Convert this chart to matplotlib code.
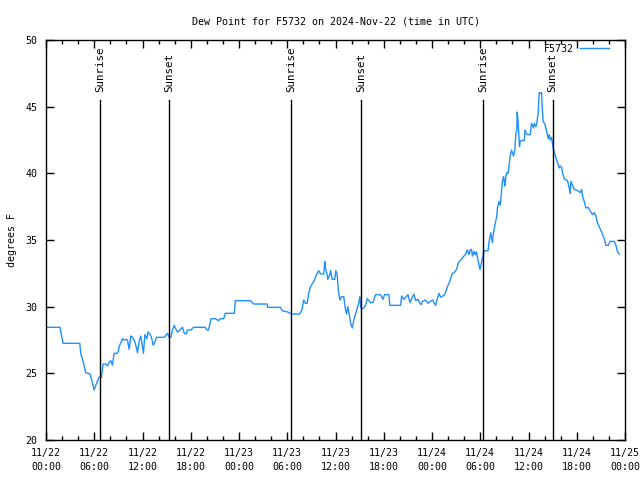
import matplotlib
matplotlib.use("Agg")
import matplotlib.pyplot as plt
from matplotlib.ticker import MultipleLocator

# hours after 2024-11-22 00:00 UTC
hours = [0.0, 1.74, 2.12, 4.2, 4.32, 4.61, 4.94, 5.48, 5.69, 5.98, 6.19, 6.39, 6.6, 6.89,
         7.1, 7.44, 7.64, 7.85, 8.06, 8.26, 8.47, 8.8, 8.97, 9.09, 9.38, 9.5, 9.72, 9.93,
         10.13, 10.34, 10.55, 10.75, 10.96, 11.17, 11.37, 11.58, 11.79, 12.0, 12.12, 12.29,
         12.54, 12.7, 12.95, 13.12, 13.33, 13.54, 13.74, 14.7, 14.91, 15.11, 15.32, 15.53,
         15.73, 15.94, 16.16, 16.36, 16.57, 16.78, 16.98, 17.19, 17.4, 17.6, 18.02, 18.35,
         19.81, 20.02, 20.22, 20.52, 21.05, 21.46, 21.67, 22.09, 22.3, 23.42, 23.54, 25.41,
         25.82, 27.49, 27.57, 29.15, 29.36, 30.06, 30.52, 31.55, 31.85, 32.05, 32.26, 32.47,
         32.67, 32.89, 33.1, 33.3, 33.72, 33.92, 34.13, 34.54, 34.67, 34.75, 34.97, 35.04,
         35.29, 35.38, 35.59, 35.91, 36.04, 36.21, 36.34, 36.54, 36.75, 37.03, 37.25, 37.37,
         37.53, 37.66, 37.87, 38.08, 38.28, 38.49, 38.7, 38.9, 39.03, 39.15, 39.33, 39.53,
         39.74, 39.95, 40.15, 40.36, 40.65, 40.98, 41.61, 41.89, 42.1, 42.64, 42.76, 44.1,
         44.22, 44.51, 44.72, 45.01, 45.26, 45.47, 45.75, 45.97, 46.25, 46.5, 46.67, 46.8,
         47.21, 47.5, 47.83, 48.08, 48.25, 48.46, 48.67, 48.87, 49.08, 49.49, 49.7, 49.91,
         50.11, 50.32, 50.54, 50.74, 51.07, 51.28, 51.57, 51.91, 52.19, 52.4, 52.61, 52.74,
         52.91, 53.03, 53.23, 53.36, 53.53, 53.72, 53.97, 54.4, 54.56, 54.97, 55.1, 55.31,
         55.39, 55.51, 55.64, 55.81, 56.05, 56.14, 56.34, 56.47, 56.55, 56.64, 56.76, 56.89,
         56.97, 57.05, 57.18, 57.3, 57.46, 57.59, 57.71, 57.89, 58.01, 58.14, 58.3, 58.43,
         58.55, 58.59, 58.67, 58.76, 58.88, 58.96, 59.05, 59.46, 59.59, 59.71, 59.88, 60.21,
         60.38, 60.63, 60.71, 60.92, 61.04, 61.2, 61.33, 61.54, 61.62, 61.7, 61.82, 62.03,
         62.28, 62.45, 62.57, 62.7, 62.87, 63.03, 63.19, 63.4, 63.62, 63.82, 63.94, 64.12,
         64.24, 64.45, 64.66, 64.86, 65.06, 65.19, 65.27, 65.48, 65.69, 66.1, 66.43, 66.61,
         66.73, 66.93, 67.14, 67.43, 67.68, 67.98, 68.18, 68.39, 68.51, 68.8, 69.01, 69.22,
         69.42, 69.63, 69.92, 70.17, 70.66, 70.87, 71.08, 71.28]
dewpoint = [28.45, 28.45, 27.25, 27.25, 26.5, 25.9, 25.05, 24.95, 24.5, 23.75, 24.1, 24.4,
            24.7, 24.7, 25.7, 25.7, 25.55, 25.8, 25.95, 25.6, 26.5, 26.5, 26.6, 27.0, 27.4,
            27.6, 27.5, 27.55, 27.5, 26.8, 27.8, 27.7, 27.5, 27.1, 26.55, 27.4, 27.8, 27.0,
            26.5, 27.9, 27.6, 28.1, 27.9, 27.7, 27.1, 27.35, 27.7, 27.7, 27.85, 28.0, 27.7,
            27.7, 28.25, 28.6, 28.3, 28.1, 28.2, 28.35, 28.45, 28.0, 27.95, 28.25, 28.25,
            28.45, 28.45, 28.25, 28.25, 29.1, 29.1, 28.95, 29.1, 29.1, 29.5, 29.5, 30.45,
            30.45, 30.2, 30.2, 29.95, 29.95, 29.7, 29.6, 29.45, 29.45, 29.8, 30.5, 30.25,
            30.25, 31.0, 31.5, 31.7, 31.9, 32.5, 32.7, 32.45, 32.45, 33.4, 32.9, 32.4, 32.05,
            32.4, 32.7, 32.05, 32.05, 32.7, 32.4, 31.3, 30.5, 30.75, 30.75, 29.75, 29.45,
            30.0, 29.6, 28.8, 28.4, 29.0, 29.45, 29.9, 30.3, 30.75, 29.9, 29.85, 29.9, 30.1,
            30.6, 30.45, 30.3, 30.3, 30.9, 30.9, 30.55, 30.9, 30.9, 30.1, 30.1, 30.8, 30.55,
            30.7, 30.9, 30.3, 30.6, 30.95, 30.45, 30.55, 30.25, 30.15, 30.4, 30.5, 30.25,
            30.4, 30.5, 30.3, 30.1, 30.6, 31.0, 30.7, 30.85, 31.1, 31.5, 31.75, 32.1, 32.5,
            32.55, 32.8, 33.3, 33.5, 33.75, 33.95, 34.25, 33.9, 34.25, 34.3, 33.8, 34.15,
            33.9, 34.1, 33.5, 32.8, 34.0, 34.2, 34.2, 34.9, 35.55, 35.2, 34.8, 35.5, 36.1,
            36.75, 37.4, 37.9, 37.6, 38.0, 38.6, 39.4, 39.75, 39.5, 39.05, 39.75, 40.05, 40.0,
            40.6, 41.25, 41.75, 41.55, 41.3, 41.7, 43.0, 43.25, 44.6, 44.2, 43.25, 42.0, 42.4,
            42.45, 42.45, 43.25, 43.0, 42.9, 42.9, 43.75, 43.4, 43.75, 43.5, 43.8, 44.5,
            46.05, 46.0, 46.05, 45.0, 43.9, 43.7, 43.1, 42.6, 42.9, 42.5, 42.7, 42.0, 41.6,
            41.2, 40.8, 40.4, 40.55, 40.45, 40.0, 39.6, 39.5, 39.45, 38.9, 38.5, 39.4, 39.1,
            38.8, 38.7, 38.55, 38.8, 38.25, 37.9, 37.4, 37.45, 37.15, 36.9, 37.05, 36.8, 36.4,
            36.0, 35.7, 35.4, 35.1, 34.6, 34.6, 34.9, 34.9, 34.6, 34.1, 33.95]

sun_events = [6.72, 15.32, 30.5, 39.2, 54.4, 63.0]
sun_labels = ["Sunrise", "Sunset", "Sunrise", "Sunset", "Sunrise", "Sunset"]

tick_hours = list(range(0, 73, 6))
tick_labels = ["11/22\n00:00", "11/22\n06:00", "11/22\n12:00", "11/22\n18:00",
               "11/23\n00:00", "11/23\n06:00", "11/23\n12:00", "11/23\n18:00",
               "11/24\n00:00", "11/24\n06:00", "11/24\n12:00", "11/24\n18:00",
               "11/25\n00:00"]

plt.rcParams['font.family'] = 'DejaVu Sans Mono'
plt.rcParams['font.size'] = 7.2

fig = plt.figure(figsize=(6.4, 4.8), dpi=100)
ax = fig.add_axes([46 / 640, 40 / 480, 579 / 640, 400 / 480])

ax.plot(hours, dewpoint, color='#1E90FF', linewidth=1, label='F5732')

for h, lab in zip(sun_events, sun_labels):
    ax.plot([h, h], [20, 45.5], color='black', linewidth=1)
    ax.text(h, 46.1, lab, rotation=90, ha='center', va='bottom', fontsize=7.8)

ax.set_xlim(0, 72)
ax.set_ylim(20, 50)
ax.set_xticks(tick_hours)
ax.set_xticklabels(tick_labels, linespacing=1.5)
ax.xaxis.set_minor_locator(MultipleLocator(2))
ax.set_yticks(range(20, 51, 5))
ax.tick_params(which='both', direction='in', top=True, right=True, width=1)
ax.tick_params(which='major', length=6, pad=6)
ax.tick_params(which='minor', length=3)
for s in ax.spines.values():
    s.set_linewidth(1)

ax.set_ylabel('degrees F', labelpad=6)
ax.set_title('Dew Point for F5732 on 2024-Nov-22 (time in UTC)', fontsize=7.2, pad=11)
ax.legend(loc='upper right', bbox_to_anchor=(0.979, 1.0), borderaxespad=0,
          frameon=False, handlelength=2.9, handletextpad=0.6, markerfirst=False)

fig.savefig('out.png', dpi=100)
